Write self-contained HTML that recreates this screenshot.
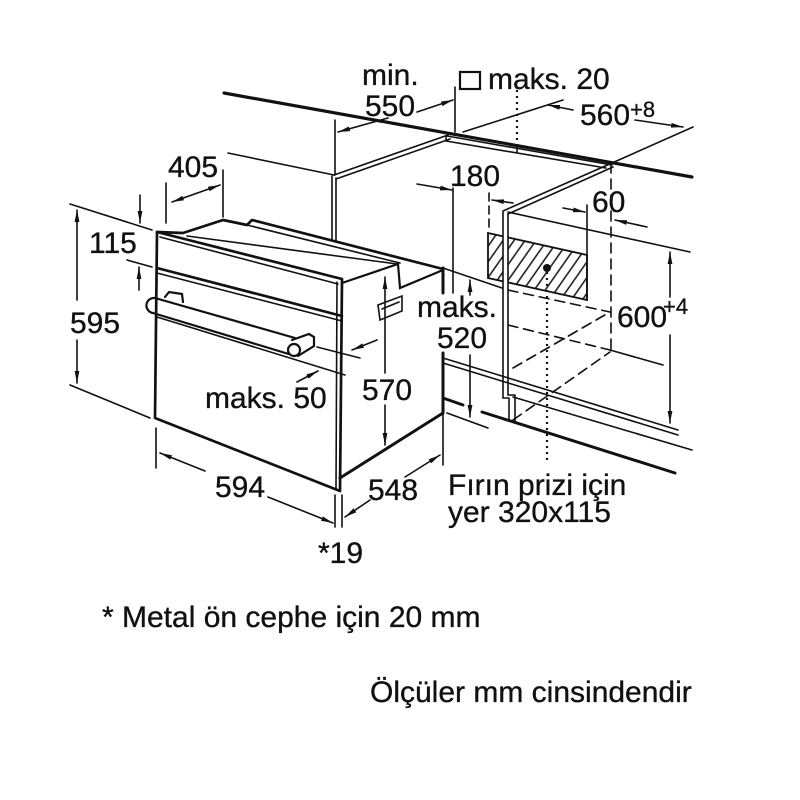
<!DOCTYPE html>
<html><head><meta charset="utf-8">
<style>
html,body{margin:0;padding:0;background:#fff;}
svg{display:block;}
text{font-family:"Liberation Sans",Arial,sans-serif;font-size:30px;fill:#111;stroke:#111;stroke-width:0.35px;}
.s{font-size:22px;}
</style></head><body>
<svg width="800" height="800" viewBox="0 0 800 800" xmlns="http://www.w3.org/2000/svg">
<defs>
<marker id="a" viewBox="0 0 12 6" refX="12" refY="3" markerWidth="12" markerHeight="6" markerUnits="userSpaceOnUse" orient="auto-start-reverse"><path d="M0,0.6 L12,3 L0,5.4 z" fill="#111"/></marker>
<pattern id="h" width="9" height="9" patternUnits="userSpaceOnUse" patternTransform="rotate(35)"><line x1="1" y1="0" x2="1" y2="9" stroke="#111" stroke-width="1.5"/></pattern>
</defs>

<!-- hatched socket area -->
<polygon points="488,233 587,255 587,300 488,278" fill="url(#h)" stroke="#111" stroke-width="1.8"/>
<polygon points="503,212 508,214 508,398 503,398" fill="#fff"/>

<g stroke="#111" fill="none" stroke-width="1.6" stroke-linecap="round">
<!-- countertop -->
<line x1="224" y1="93" x2="692" y2="177" stroke-width="3.2"/>
<path d="M447,136 L612,165 M446,141 L606,168 M446,136 L446,141 M517,147 V153"/>
<!-- left cabinet panel -->
<path d="M334,175 L448,135 M336,179 L450,139"/>
<path d="M332,176 V240 M336,178 V241"/>
<path d="M228,153 L334,175"/>
<path d="M335,120 V175 M455,87 V132"/>
<line x1="388" y1="118" x2="338" y2="132" marker-end="url(#a)"/>
<line x1="417" y1="112" x2="453" y2="100" marker-end="url(#a)"/>
<!-- right cabinet panel -->
<path d="M612,163 L503,211 M613,167 L508,214"/>
<path d="M503,212 V398 H509 M508,214 V395 H515 M509,398 V421 M515,395 V423"/>
<path d="M612,163 L693,127"/>
<path d="M463,132 L563,100"/>
<line x1="573" y1="110" x2="548" y2="105" marker-end="url(#a)"/>
<line x1="635" y1="120" x2="683" y2="127" marker-end="url(#a)"/>
<path d="M508,212 L690,252"/>
<!-- 180 -->
<line x1="417" y1="184" x2="452" y2="190" marker-end="url(#a)"/>
<path d="M453,188 V293"/>
<path d="M489,193 V228" stroke-dasharray="8,5"/>
<line x1="513" y1="203" x2="492" y2="200" marker-end="url(#a)"/>
<!-- 60 -->
<line x1="563" y1="208" x2="585" y2="212" marker-end="url(#a)"/>
<path d="M587,205 V300"/>
<path d="M611,163 V350" stroke-dasharray="10,6"/>
<line x1="647" y1="227" x2="615" y2="220" marker-end="url(#a)"/>
<!-- dotted lines -->
<path d="M547,272 V462 M517,90 V146" stroke-dasharray="2,4" stroke-width="2.2" stroke-linecap="butt"/>
<!-- 600 -->
<line x1="670" y1="297" x2="670" y2="252" marker-end="url(#a)"/>
<line x1="670" y1="335" x2="670" y2="423" marker-end="url(#a)"/>
<!-- dashed niche -->
<path d="M508,290 L610,312 M508,325 L610,350 M513,368 L610,312 M513,420 L610,352" stroke-dasharray="10,6"/>
<path d="M610,350 L663,365"/>
<!-- floor -->
<path d="M443,358 L678,430 M443,363 L678,435"/>
<path d="M513,397 L692,450"/>
<path d="M443,398 L463,405 M482,412 L675,473" stroke-width="3"/>
<path d="M443,268 V293 M443,353 V413" stroke-width="3"/>
<!-- 520 -->
<line x1="470" y1="295" x2="470" y2="280" marker-end="url(#a)"/>
<line x1="470" y1="355" x2="470" y2="417" marker-end="url(#a)"/>
<path d="M443,268 L502,288 M447,413 L488,428"/>

<!-- oven -->
<path d="M157,232 L342,279 L340,491 L155,418 Z" stroke-width="2.7" stroke-linejoin="round"/>
<path d="M337,282 L336,489"/>
<path d="M160,237 L338,284"/>
<path d="M157,268 L342,316" stroke-width="2.7"/>
<path d="M157,273 L342,321"/>
<path d="M157,232 L183,233 L223,220 L247,225 L252,220 L443,269" stroke-width="2.7" stroke-linejoin="round"/>
<path d="M187,236 L397,264 M247,225 L400,263"/>
<path d="M342,283 L398,264 L400,288 L443,270" stroke-width="2.2"/>
<path d="M340,478 L443,413" stroke-width="3"/>
<!-- handle -->
<path d="M155,298 L295,338 M153,313 L292,355 M155,298 A7.5,7.5 0 0 0 153,313" stroke-width="2.2"/>
<path d="M292,340 L309,334 L314,337 L314,346 L298,356" stroke-width="2.2" fill="#fff"/>
<circle cx="294" cy="350" r="6" stroke-width="2.2" fill="#fff"/>
<path d="M165,297 L169,292 L182,294 L183,302" stroke-width="2.2"/>
<!-- maks 50 -->
<path d="M157,317 L345,375"/>
<path d="M317,347 L360,358"/>
<line x1="377" y1="340" x2="352" y2="350" marker-end="url(#a)"/>
<line x1="297" y1="382" x2="318" y2="371" marker-end="url(#a)"/>
<!-- 570 -->
<line x1="385" y1="373" x2="385" y2="277" marker-end="url(#a)"/>
<line x1="385" y1="405" x2="385" y2="445" marker-end="url(#a)"/>
<path d="M378,305 L402,296 L402,311 L380,320 Z M382,309 L399,302"/>
<!-- 594 -->
<line x1="205" y1="471" x2="160" y2="453" marker-end="url(#a)"/>
<line x1="268" y1="497" x2="333" y2="523" marker-end="url(#a)"/>
<path d="M156,428 V468 M335,495 V527"/>
<!-- 548 -->
<line x1="370" y1="500" x2="345" y2="517" marker-end="url(#a)"/>
<line x1="405" y1="477" x2="440" y2="455" marker-end="url(#a)"/>
<path d="M342,495 V527 M443,413 V465"/>
<!-- 595 -->
<line x1="77" y1="300" x2="77" y2="210" marker-end="url(#a)"/>
<line x1="77" y1="340" x2="77" y2="383" marker-end="url(#a)"/>
<path d="M70,204 L152,230 M70,385 L150,418"/>
<!-- 115 -->
<line x1="140" y1="195" x2="140" y2="223" marker-end="url(#a)"/>
<line x1="139" y1="290" x2="139" y2="267" marker-end="url(#a)"/>
<path d="M127,260 L152,267"/>
<!-- 405 -->
<line x1="172" y1="202" x2="220" y2="185" marker-start="url(#a)" marker-end="url(#a)"/>
<path d="M166,183 V223 M223,170 V217"/>
<!-- square symbol -->
<rect x="460" y="72" width="20" height="17" stroke-width="2.2"/>
</g>
<circle cx="547" cy="268" r="4" fill="#111"/>

<text x="362" y="85">min.</text>
<text x="365" y="116">550</text>
<text x="488" y="89">maks. 20</text>
<text x="580" y="125">560</text><text class="s" x="630" y="117">+8</text>
<text x="168" y="177">405</text>
<text x="450" y="186">180</text>
<text x="592" y="212">60</text>
<text x="89" y="253">115</text>
<text x="70" y="333">595</text>
<text x="417" y="317">maks.</text>
<text x="437" y="348">520</text>
<text x="617" y="327">600</text><text class="s" x="663" y="314">+4</text>
<text x="205" y="408">maks. 50</text>
<text x="362" y="400">570</text>
<text x="215" y="497">594</text>
<text x="368" y="500">548</text>
<text x="318" y="563">*19</text>
<text x="448" y="495">Fırın prizi için</text>
<text x="448" y="522">yer 320x115</text>
<text x="102" y="627">* Metal ön cephe için 20 mm</text>
<text x="370" y="702">Ölçüler mm cinsindendir</text>
</svg>
</body></html>
